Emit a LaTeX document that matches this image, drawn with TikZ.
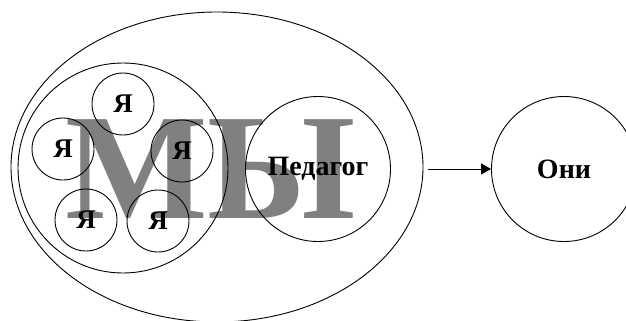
\documentclass[tikz,border=0pt]{standalone}
\usepackage{fontspec}
\setmainfont{Liberation Serif}
\usetikzlibrary{shapes.geometric,arrows.meta}
\definecolor{wegray}{RGB}{128,128,128}
\tikzset{
  line/.style={draw=black, line width=0.9pt},
  ya/.style={line, circle, minimum size=62pt, inner sep=0pt, font=\bfseries\fontsize{27}{27}\selectfont},
  big/.style={line, circle, minimum size=145pt, inner sep=0pt, font=\bfseries\fontsize{28}{28}\selectfont},
  arr/.style={line, -{Triangle[length=10pt,width=11pt]}}
}
\begin{document}
\begin{tikzpicture}[x=1pt,y=-1pt]
\useasboundingbox (0,0) rectangle (626,321);
\clip (0,0) rectangle (626,321);
% big gray word
\node[text=wegray, font=\bfseries\fontsize{151}{151}\selectfont, anchor=base west, inner sep=0pt] (word) at (65,218) {МЫ};
% outer ellipse
\node[line, ellipse, minimum width=412pt, minimum height=310pt, inner sep=0pt] (we) at (217,167) {};
% inner group circle
\node[line, circle, minimum size=210pt, inner sep=0pt] (group) at (123,168) {};
% Я circles
\node[ya] (y1) at (123,104) {Я};
\node[ya] (y2) at (63,149) {Я};
\node[ya] (y3) at (182,151) {Я};
\node[ya] (y4) at (86,220) {Я};
\node[ya] (y5) at (158,221) {Я};
% teacher
\node[big] (ped) at (318,169) {Педагог};
% they
\node[big] (oni) at (564,169) {Они};
% arrow
\path (we.east |- oni.west) coordinate (astart);
\draw[arr] ([xshift=5pt]astart) -- (oni.west);
\end{tikzpicture}
\end{document}
